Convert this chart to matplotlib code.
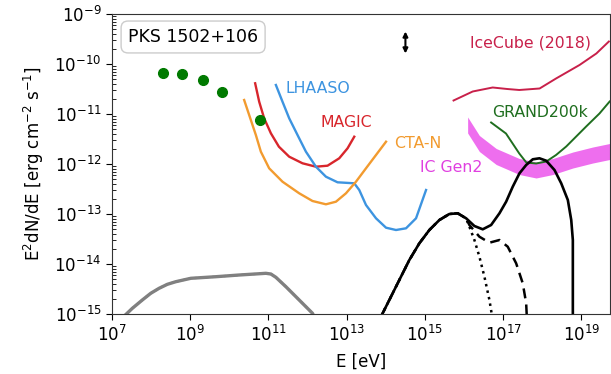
import numpy as np
import matplotlib
matplotlib.use("Agg")
import matplotlib.pyplot as plt

# ---- data (log10 E [eV], log10 E^2 dN/dE [erg cm^-2 s^-1]) ----
pts_logE = [8.31, 8.78, 9.32, 9.80, 10.79]
pts_logF = [-10.19, -10.21, -10.33, -10.57, -11.12]

magic_logE = [10.659, 10.762, 10.889, 11.061, 11.266, 11.529, 11.870, 12.212, 12.509, 12.808, 13.021, 13.192]
magic_logF = [-10.386, -10.754, -11.086, -11.386, -11.654, -11.854, -11.986, -12.054, -12.034, -11.886, -11.686, -11.454]

lhaaso_logE = [11.189, 11.358, 11.529, 11.742, 11.957, 12.212, 12.468, 12.765, 13.192, 13.320, 13.492, 13.748,
               14.004, 14.259, 14.515, 14.771, 15.027]
lhaaso_logF = [-10.42, -10.754, -11.086, -11.42, -11.754, -12.054, -12.254, -12.366, -12.386, -12.52, -12.82, -13.086,
               -13.274, -13.32, -13.286, -13.086, -12.52]

cta_logE = [10.378, 10.506, 10.677, 10.805, 11.017, 11.358, 11.785, 12.125, 12.468, 12.724, 12.980, 13.236,
            13.492, 13.748, 14.004]
cta_logF = [-10.72, -11.02, -11.42, -11.754, -12.086, -12.354, -12.586, -12.74, -12.806, -12.754, -12.586, -12.354,
            -12.086, -11.82, -11.554]

icecube_logE = [15.73, 16.22, 16.73, 17.10, 17.41, 17.93, 18.35, 18.95, 19.38, 19.70]
icecube_logF = [-10.73, -10.55, -10.47, -10.50, -10.52, -10.49, -10.29, -10.02, -9.79, -9.55]

grand_logE = [16.69, 17.07, 17.41, 17.59, 17.84, 18.10, 18.35, 18.61, 19.12, 19.46, 19.72]
grand_logF = [-11.17, -11.39, -11.79, -11.97, -11.99, -11.95, -11.82, -11.65, -11.25, -10.99, -10.75]

icgen2_logE = [16.09, 16.39, 16.82, 17.41, 17.84, 18.27, 18.78, 19.29, 19.72]
icgen2_upper = [-11.06, -11.43, -11.69, -11.89, -11.96, -11.89, -11.76, -11.66, -11.59]
icgen2_lower = [-11.38, -11.75, -12.01, -12.21, -12.28, -12.21, -12.08, -11.98, -11.91]

tot_logE = [13.876, 14.088, 14.344, 14.600, 14.856, 15.112, 15.368, 15.623, 15.836, 16.051, 16.263, 16.476,
            16.690, 16.903, 17.074, 17.243, 17.415, 17.586, 17.755, 17.926, 18.098, 18.310, 18.482, 18.651,
            18.738, 18.779, 18.779]
tot_logF = [-15.05, -14.72, -14.32, -13.92, -13.586, -13.32, -13.12, -13.0, -12.986, -13.086, -13.24, -13.306,
            -13.22, -12.986, -12.754, -12.454, -12.186, -12.02, -11.906, -11.886, -11.934, -12.12, -12.386, -12.72,
            -13.12, -13.52, -15.05]

dot_logE = [13.876, 14.088, 14.344, 14.600, 14.856, 15.112, 15.368, 15.623, 15.836, 16.051, 16.135, 16.263,
            16.391, 16.519, 16.647, 16.716]
dot_logF = [-15.05, -14.72, -14.32, -13.92, -13.586, -13.32, -13.12, -13.0, -12.986, -13.086, -13.254, -13.52,
            -13.854, -14.254, -14.72, -15.05]

dash_logE = [13.876, 14.088, 14.344, 14.600, 14.856, 15.112, 15.368, 15.623, 15.836, 16.051, 16.135, 16.391,
             16.647, 16.903, 17.115, 17.330, 17.499, 17.586, 17.602]
dash_logF = [-15.05, -14.72, -14.32, -13.92, -13.586, -13.32, -13.12, -13.0, -12.986, -13.086, -13.22, -13.454,
             -13.574, -13.52, -13.654, -13.986, -14.386, -14.786, -15.05]

gray_logE = [7.30, 7.52, 7.775, 7.99, 8.203, 8.415, 8.63, 9.014, 9.654, 10.25, 10.933, 11.061, 11.189,
             11.445, 11.785, 12.125, 12.16]
gray_logF = [-15.05, -14.886, -14.72, -14.586, -14.486, -14.406, -14.354, -14.286, -14.254, -14.22, -14.186,
             -14.2, -14.266, -14.454, -14.72, -14.986, -15.05]

arrow_logE = 14.50
arrow_logF_top = -9.35
arrow_logF_bot = -9.79

labels = ["LHAASO", "MAGIC", "CTA-N", "IC Gen2", "IceCube (2018)", "GRAND200k"]
label_logE = [11.44, 12.34, 14.22, 14.86, 16.15, 16.72]
label_logF = [-10.50, -11.18, -11.60, -12.08, -9.58, -10.98]
label_colors = ["#3d94e0", "#d8262c", "#f29b2f", "#e040e0", "#c8204a", "#1f6e1f"]

xticks_exp = [7, 9, 11, 13, 15, 17, 19]
yticks_exp = [-15, -14, -13, -12, -11, -10, -9]

def p(a):
    return 10.0 ** np.asarray(a)

fig = plt.figure(figsize=(6.11, 3.74), dpi=100)
ax = fig.add_axes([0.1833, 0.1604, 0.8145, 0.8022])

ax.fill_between(p(icgen2_logE), p(icgen2_lower), p(icgen2_upper), color="#ee66ee", lw=0, alpha=0.95)
ax.plot(p(gray_logE), p(gray_logF), color="#808080", lw=2.4)
ax.plot(p(gray_logE), p(gray_logF), color="#808080", lw=1.6, ls=":")
ax.plot(p(magic_logE), p(magic_logF), color=label_colors[1], lw=1.7)
ax.plot(p(lhaaso_logE), p(lhaaso_logF), color=label_colors[0], lw=1.7)
ax.plot(p(cta_logE), p(cta_logF), color=label_colors[2], lw=1.7)
ax.plot(p(icecube_logE), p(icecube_logF), color=label_colors[4], lw=1.4)
ax.plot(p(grand_logE), p(grand_logF), color=label_colors[5], lw=1.4)
ax.plot(p(dot_logE), p(dot_logF), color="black", lw=1.8, ls=":")
ax.plot(p(dash_logE), p(dash_logF), color="black", lw=1.8, ls=(0, (4, 2.5)))
ax.plot(p(tot_logE), p(tot_logF), color="black", lw=1.9)
ax.plot(p(pts_logE), p(pts_logF), "o", color="#007a00", ms=7, mec="#007a00")

ax.annotate("", xy=(p(arrow_logE), p(arrow_logF_bot)), xytext=(p(arrow_logE), p(arrow_logF_top)),
            arrowprops=dict(arrowstyle="<|-|>", color="black", lw=1.5,
                            mutation_scale=7, shrinkA=0, shrinkB=0))

for t, lx, ly, c in zip(labels, label_logE, label_logF, label_colors):
    ax.text(p(lx), p(ly), t, color=c, fontsize=11.3, ha="left", va="center")

ax.text(p(7.41), p(-9.46), "PKS 1502+106", fontsize=12.5, ha="left", va="center",
        bbox=dict(boxstyle="round,pad=0.4", fc="white", ec="#cccccc", lw=1))

ax.set_xscale("log")
ax.set_yscale("log")
ax.set_xlim(1e7, p(19.72))
ax.set_ylim(1e-15, 1e-9)
ax.set_xticks([10.0 ** e for e in xticks_exp])
ax.set_xticklabels([f"$10^{{{e}}}$" for e in xticks_exp])
ax.set_yticks([10.0 ** e for e in yticks_exp])
ax.set_yticklabels([f"$10^{{{e}}}$" for e in yticks_exp])
ax.xaxis.set_minor_locator(matplotlib.ticker.NullLocator())
ax.yaxis.set_minor_locator(matplotlib.ticker.LogLocator(base=10, subs=np.arange(2, 10)))
ax.yaxis.set_minor_formatter(matplotlib.ticker.NullFormatter())
ax.tick_params(axis="both", which="major", labelsize=12, direction="out", length=4)
ax.tick_params(axis="y", which="minor", direction="in", length=3)
for s in ax.spines.values():
    s.set_color("#333333")
ax.set_xlabel("E [eV]", fontsize=12, labelpad=6)
ax.set_ylabel("E$^2$dN/dE [erg cm$^{-2}$ s$^{-1}$]", fontsize=12, labelpad=6)

fig.savefig("out.png", dpi=100)
